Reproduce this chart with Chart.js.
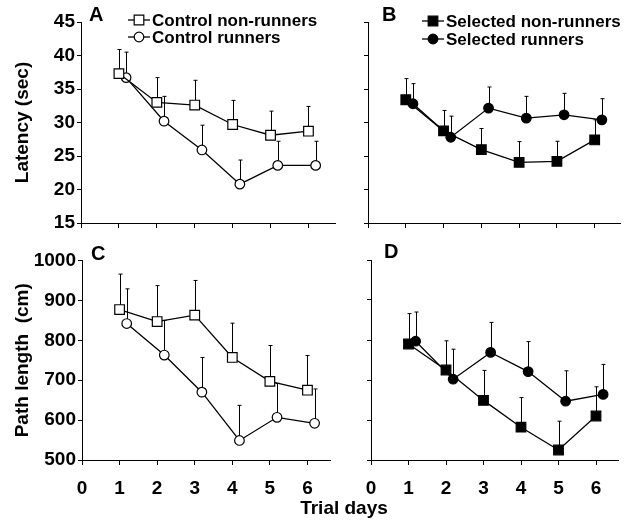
<!DOCTYPE html>
<html><head><meta charset="utf-8">
<script src="https://cdn.jsdelivr.net/npm/chart.js@4.4.0/dist/chart.umd.min.js"></script>
<style>
html,body{margin:0;padding:0;background:#fff;width:634px;height:525px;overflow:hidden;}
canvas{position:absolute;display:block;}
#xtitle{position:absolute;left:244px;width:200px;top:497px;text-align:center;font:bold 19px 'Liberation Sans',Arial,sans-serif;color:#000;}
</style></head><body>
<canvas id="cA" width="345" height="240" style="left:0px;top:0px"></canvas>
<canvas id="cB" width="304" height="240" style="left:330px;top:0px"></canvas>
<canvas id="cC" width="345" height="285" style="left:0px;top:240px"></canvas>
<canvas id="cD" width="304" height="285" style="left:330px;top:240px"></canvas>
<div id="xtitle">Trial days</div>
<script>
// ---------------- data ----------------
const days = [1, 2, 3, 4, 5, 6];
const runnerShift = 0.19;
const dayTicks = [0, 1, 2, 3, 4, 5, 6];
const latencyTicks = [15, 20, 25, 30, 35, 40, 45];
const pathTicks = [500, 600, 700, 800, 900, 1000];

const seriesNames = ['Control non-runners', 'Control runners', 'Selected non-runners', 'Selected runners'];

const latControlNon   = [37.3, 33.0, 32.6, 29.7, 28.1, 28.7];
const latControlNonSE = [3.6, 3.7, 3.7, 3.6, 3.6, 3.7];
const latControlRun   = [36.7, 30.2, 25.9, 20.8, 23.6, 23.6];
const latControlRunSE = [3.8, 3.7, 3.7, 3.6, 3.6, 3.6];
const latSelNon       = [33.4, 28.75, 25.95, 24.05, 24.2, 27.4];
const latSelNonSE     = [3.15, 3.05, 3.15, 3.1, 3.0, 3.0];
const latSelRun       = [32.8, 27.8, 32.15, 30.65, 31.15, 30.4];
const latSelRunSE     = [3.0, 3.15, 3.15, 3.25, 3.2, 3.15];

const pathControlNon   = [877, 847, 863, 757, 697, 675];
const pathControlNonSE = [89, 90, 87, 86, 90, 87];
const pathControlRun   = [842, 763, 670, 549, 607, 592];
const pathControlRunSE = [87, 87, 87, 88, 85, 86];
const pathSelNon       = [790, 725, 649, 582, 525, 610];
const pathSelNonSE     = [76, 73, 75, 74, 72, 73];
const pathSelRun       = [797, 702, 769, 721, 647, 664];
const pathSelRunSE     = [73, 75, 75, 75, 76, 75];

// ---------------- helpers ----------------
const FONT = "'Liberation Sans', Arial, sans-serif";
Chart.defaults.font.family = FONT;
Chart.defaults.font.weight = 'bold';
Chart.defaults.color = '#000';

function pts(vals, shift) { return vals.map((v, i) => ({x: days[i] + shift, y: v})); }

function series(label, vals, se, shift, style, filled) {
  return {
    label, data: pts(vals, shift), errors: se,
    borderColor: '#000', borderWidth: 1.3, backgroundColor: filled ? '#000' : '#fff',
    pointStyle: style, pointRadius: style === 'rect' ? 6.8 : 4.8, pointHoverRadius: 0,
    pointBorderWidth: 1.2, pointBorderColor: '#000', pointBackgroundColor: filled ? '#000' : '#fff',
    fill: false, tension: 0
  };
}

const errorBarPlugin = {
  id: 'errorBars',
  beforeDatasetsDraw(chart) {
    const {ctx, scales: {x, y}} = chart;
    ctx.save();
    ctx.strokeStyle = '#000';
    ctx.lineWidth = 1;
    chart.data.datasets.forEach(ds => {
      ds.data.forEach((p, j) => {
        const px = Math.round(x.getPixelForValue(p.x)) + 0.5;
        const y0 = y.getPixelForValue(p.y);
        const y1 = y.getPixelForValue(p.y + ds.errors[j]);
        ctx.beginPath();
        ctx.moveTo(px, y0); ctx.lineTo(px, y1);
        ctx.moveTo(px - 2, y1); ctx.lineTo(px + 2, y1);
        ctx.stroke();
      });
    });
    ctx.restore();
  }
};

const decorPlugin = {
  id: 'decor',
  afterDraw(chart, args, o) {
    const ctx = chart.ctx;
    ctx.save();
    ctx.fillStyle = '#000';
    ctx.textBaseline = 'middle';
    ctx.textAlign = 'left';
    ctx.font = 'bold 20px ' + FONT;
    ctx.fillText(o.letter, o.letterX, o.letterY);
    if (o.legend) {
      ctx.font = 'bold 17px ' + FONT;
      chart.data.datasets.forEach((ds, i) => {
        const yy = o.legendRows[i];
        ctx.strokeStyle = '#000'; ctx.lineWidth = 1.3;
        ctx.beginPath(); ctx.moveTo(o.legendX, yy); ctx.lineTo(o.legendX + 22, yy); ctx.stroke();
        ctx.fillStyle = ds.pointBackgroundColor; ctx.strokeStyle = '#000'; ctx.lineWidth = 1.2;
        Chart.helpers.drawPoint(ctx, {pointStyle: ds.pointStyle, radius: ds.pointRadius, rotation: 0, borderWidth: 1.2}, o.legendX + 11, yy);
        ctx.fillStyle = '#000';
        ctx.fillText(ds.label, o.legendX + 24, yy + 1);
      });
    }
    ctx.restore();
  }
};

function makePanel(p) {
  new Chart(document.getElementById(p.id), {
    type: 'line',
    data: {datasets: p.datasets},
    plugins: [errorBarPlugin, decorPlugin],
    options: {
      responsive: false, animation: false, devicePixelRatio: 1,
      layout: {padding: {left: 0, top: p.padTop, right: p.padRight, bottom: 0}},
      plugins: {
        legend: {display: false}, tooltip: {enabled: false},
        decor: {letter: p.letter, letterX: p.letterX, letterY: p.letterY,
                legend: true, legendX: p.legendX, legendRows: p.legendRows}
      },
      scales: {
        x: {
          type: 'linear', min: 0, max: p.xmax,
          afterBuildTicks: s => { s.ticks = dayTicks.map(v => ({value: v})); },
          afterFit: s => { s.height = p.xH; },
          grid: {drawOnChartArea: false, drawTicks: true, tickLength: 5, color: '#000', lineWidth: 1},
          border: {display: true, color: '#000', width: 1},
          ticks: {display: p.xLabels, padding: 12, font: {size: 19, weight: 'bold'}, color: '#000', maxRotation: 0,
                  callback: v => String(v)}
        },
        y: {
          type: 'linear', min: p.yTicks[0], max: p.yTicks[p.yTicks.length - 1],
          afterBuildTicks: s => { s.ticks = p.yTicks.map(v => ({value: v})); },
          afterFit: s => { s.width = p.yW; },
          grid: {drawOnChartArea: false, drawTicks: true, tickLength: 4, color: '#000', lineWidth: 1},
          border: {display: true, color: '#000', width: 1},
          ticks: {display: p.yLabels, padding: 2, font: {size: 19, weight: 'bold'}, color: '#000',
                  callback: v => String(v)},
          title: {display: !!p.yTitle, text: p.yTitle || '', font: {size: 19, weight: 'bold'}, color: '#000', padding: {top: 11, bottom: 0}}
        }
      }
    }
  });
}

makePanel({
  id: 'cA', padTop: 22, padRight: 10, yW: 81, xH: 17, xmax: 6.7, yTicks: latencyTicks,
  xLabels: false, yLabels: true, yTitle: 'Latency (sec)',
  letter: 'A', letterX: 89, letterY: 15, legendX: 128, legendRows: [20, 37],
  datasets: [
    series(seriesNames[0], latControlNon, latControlNonSE, 0, 'rect', false),
    series(seriesNames[1], latControlRun, latControlRunSE, runnerShift, 'circle', false)
  ]
});
makePanel({
  id: 'cB', padTop: 22, padRight: 14, yW: 38, xH: 17, xmax: 6.67, yTicks: latencyTicks,
  xLabels: false, yLabels: false,
  letter: 'B', letterX: 52, letterY: 15, legendX: 92, legendRows: [21, 39],
  datasets: [
    series(seriesNames[2], latSelNon, latSelNonSE, 0, 'rect', true),
    series(seriesNames[3], latSelRun, latSelRunSE, runnerShift, 'circle', true)
  ]
});
makePanel({
  id: 'cC', padTop: 20.5, padRight: 15, yW: 82, xH: 65, xmax: 6.6, yTicks: pathTicks,
  xLabels: true, yLabels: true, yTitle: 'Path length  (cm)',
  letter: 'C', letterX: 91, letterY: 14, legendX: 0, legendRows: [],
  datasets: [
    series(seriesNames[0], pathControlNon, pathControlNonSE, 0, 'rect', false),
    series(seriesNames[1], pathControlRun, pathControlRunSE, runnerShift, 'circle', false)
  ]
});
makePanel({
  id: 'cD', padTop: 20, padRight: 15.5, yW: 41, xH: 65, xmax: 6.6, yTicks: pathTicks,
  xLabels: true, yLabels: false,
  letter: 'D', letterX: 54, letterY: 12, legendX: 0, legendRows: [],
  datasets: [
    series(seriesNames[2], pathSelNon, pathSelNonSE, 0, 'rect', true),
    series(seriesNames[3], pathSelRun, pathSelRunSE, runnerShift, 'circle', true)
  ]
});
</script>
</body></html>
